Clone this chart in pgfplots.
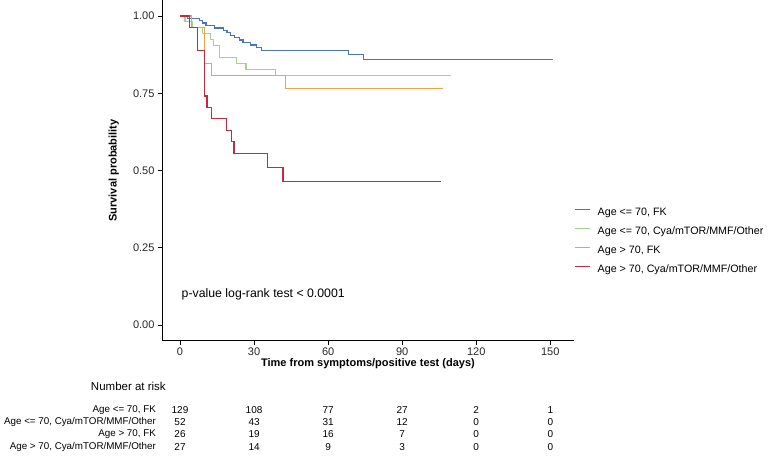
\documentclass[border=0pt]{standalone}
\usepackage{fontspec}
\setmainfont{Liberation Sans}
\usepackage{pgfplots}
\usepackage{pgfplotstable}
\pgfplotsset{compat=1.18}
\definecolor{kmA}{HTML}{4A74C0}
\definecolor{kmB}{HTML}{A6D38A}
\definecolor{kmC}{HTML}{F2A245}
\definecolor{kmD}{HTML}{C62A3D}
\pgfplotstableread{
t s
0 1
3 0.992
7.8 0.984
9 0.977
10.5 0.969
14 0.961
17.5 0.953
19 0.946
20.5 0.938
22 0.930
24 0.922
25.5 0.914
28.5 0.906
31 0.898
33 0.889
68.3 0.875
74.2 0.860
151 0.860
}\tabA
\pgfplotstableread{
t s
0 1
2 0.981
5 0.962
9.1 0.942
12.5 0.923
13.5 0.904
15.9 0.865
22.8 0.846
26.7 0.827
38.8 0.807
109.8 0.807
}\tabB
\pgfplotstableread{
t s
0 1
4.8 0.962
9.8 0.846
12.9 0.808
42.6 0.764
106.7 0.764
}\tabC
\pgfplotstableread{
t s
0 1
3.7 0.963
7.1 0.889
9.8 0.741
10.9 0.704
12.9 0.667
18.9 0.630
20.9 0.593
21.9 0.556
35.6 0.510
41.7 0.465
105.8 0.465
}\tabD
\pgfplotstableread{
x y n
0 49 129
30 49 108
60 49 77
90 49 27
120 49 2
150 49 1
0 36.7 52
30 36.7 43
60 36.7 31
90 36.7 12
120 36.7 0
150 36.7 0
0 24.5 26
30 24.5 19
60 24.5 16
90 24.5 7
120 24.5 0
150 24.5 0
0 12.3 27
30 12.3 14
60 12.3 9
90 12.3 3
120 12.3 0
150 12.3 0
}\tabRisk
\begin{document}
\begin{tikzpicture}
\useasboundingbox (-162bp,-118.5bp) rectangle (608bp,340.5bp);
\begin{axis}[
  at={(0,0)}, anchor=south west,
  scale only axis, width=412bp, height=340bp,
  xmin=-7.3, xmax=159.6, ymin=-0.05, ymax=1.05,
  axis x line*=bottom, axis y line*=left,
  axis line style={-, black, line width=0.8pt},
  tick align=outside, major tick length=4bp,
  tick style={black, line width=0.7pt},
  xtick={0,30,60,90,120,150},
  ytick={0,0.25,0.5,0.75,1},
  /pgf/number format/assume math mode=true,
  tick label style={font=\fontsize{11bp}{13bp}\selectfont, text=black!85},
  yticklabel style={/pgf/number format/.cd, fixed, fixed zerofill, precision=2},
  xlabel={\textbf{Time from symptoms/positive test (days)}},
  ylabel={\textbf{Survival probability}},
  label style={font=\fontsize{11bp}{13bp}\selectfont},
  xlabel style={at={(axis description cs:0.5,-0.069)}, anchor=center},
  ylabel style={at={(axis description cs:-0.117,0.5)}, anchor=center},
  clip=false,
  legend style={at={(axis description cs:1.0,0.2915)}, anchor=west,
    draw=none, fill=none, inner sep=0pt, outer sep=0pt,
    font=\fontsize{10.7bp}{13bp}\selectfont,
    nodes={inner sep=0pt, text height=7.9bp, text depth=2.2bp},
    row sep=9bp,
    /tikz/every odd column/.append style={column sep=7.5bp}},
  legend cell align=left,
  legend image code/.code={\draw[#1] (0bp,3.6bp) -- (15bp,3.6bp);},
]
\addplot[const plot, color=kmA, line width=1.2pt] table[x=t,y=s] {\tabA};
\addlegendentry{Age <= 70, FK}
\addplot[const plot, color=kmB, line width=1.2pt] table[x=t,y=s] {\tabB};
\addlegendentry{Age <= 70, Cya/mTOR/MMF/Other}
\addplot[const plot, color=kmC, line width=1.2pt] table[x=t,y=s] {\tabC};
\addlegendentry{Age > 70, FK}
\addplot[const plot, color=kmD, line width=1.2pt] table[x=t,y=s] {\tabD};
\addlegendentry{Age > 70, Cya/mTOR/MMF/Other}
\node[anchor=west, inner sep=0pt, font=\fontsize{12.3bp}{14bp}\selectfont] at (axis cs:0.6,0.101) {p-value log-rank test < 0.0001};
\end{axis}
\begin{axis}[
  at={(0,-118.5bp)}, anchor=south west,
  scale only axis, width=412bp, height=100bp,
  xmin=-7.3, xmax=159.6, ymin=0, ymax=100,
  hide axis, clip=false,
]
\addplot[draw=none, mark=none, nodes near coords, point meta=explicit symbolic,
  nodes near coords align={center},
  every node near coord/.append style={font=\fontsize{10bp}{12bp}\selectfont, inner sep=0pt, anchor=center}]
  table[x=x, y=y, meta=n] {\tabRisk};
\node[anchor=east, inner sep=0pt, font=\fontsize{11.5bp}{13bp}\selectfont] at (axis cs:-5.7,72.3) {Number at risk};
\node[anchor=east, inner sep=0pt, font=\fontsize{9.8bp}{12bp}\selectfont] at (axis cs:-9.7,49) {Age <= 70, FK};
\node[anchor=east, inner sep=0pt, font=\fontsize{9.8bp}{12bp}\selectfont] at (axis cs:-9.7,36.7) {Age <= 70, Cya/mTOR/MMF/Other};
\node[anchor=east, inner sep=0pt, font=\fontsize{9.8bp}{12bp}\selectfont] at (axis cs:-9.7,24.5) {Age > 70, FK};
\node[anchor=east, inner sep=0pt, font=\fontsize{9.8bp}{12bp}\selectfont] at (axis cs:-9.7,12.3) {Age > 70, Cya/mTOR/MMF/Other};
\end{axis}
\end{tikzpicture}
\end{document}
